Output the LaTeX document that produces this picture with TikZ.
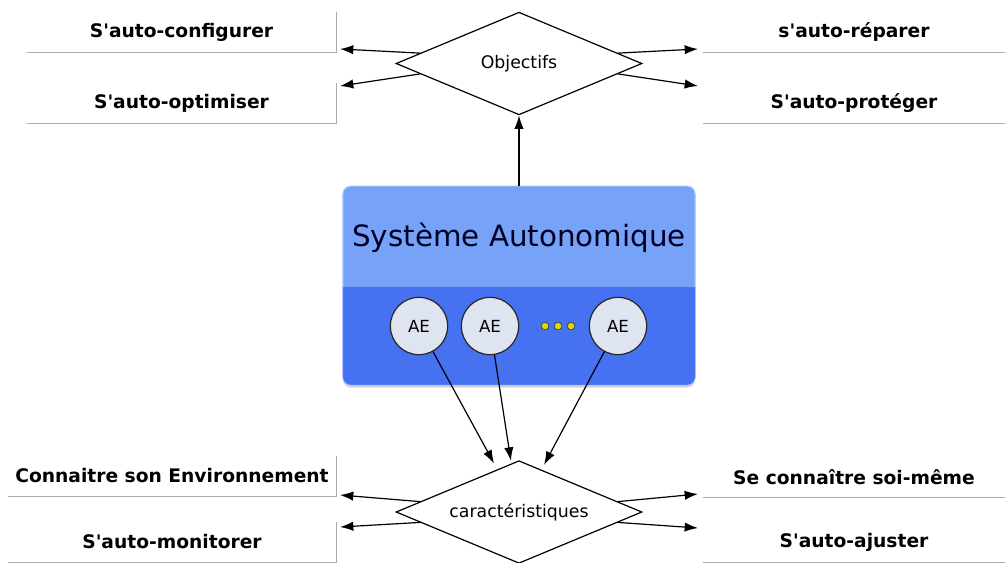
\documentclass[tikz,border=0pt]{standalone}
\usepackage{fontspec}
\setmainfont{DejaVu Sans}
\usetikzlibrary{shapes.geometric,shadows,arrows.meta}

\definecolor{uppblue}{RGB}{118,163,248}
\definecolor{lowblue}{RGB}{70,114,242}
\definecolor{aefill}{RGB}{222,228,240}
\definecolor{lblline}{RGB}{170,170,170}
\newcommand{\ap}{\textquotesingle}

\tikzset{
  lbl/.style={minimum height=30pt, inner sep=0pt, font=\fontsize{14}{16}\selectfont\bfseries},
  lblline/.style={draw=lblline, line width=0.7pt},
  choice/.style={diamond, aspect=2.4, draw, line width=0.9pt, inner sep=0pt, minimum width=184.5pt, minimum height=77pt, font=\fontsize{13}{15}\selectfont},
  ae/.style={circle, draw=black!85, line width=0.9pt, fill=aefill, minimum size=43pt, inner sep=0pt, font=\fontsize{12.5}{14}\selectfont},
  arr/.style={->,>={Latex[length=10pt,width=7pt]}, line width=0.9pt}
}

\begin{document}
\begin{tikzpicture}[x=0.75pt, y=-0.75pt]
    \useasboundingbox (0,0) rectangle (1005,562);

    % system box
    \node[draw=uppblue!60!white, fill=uppblue, rounded corners=6pt, minimum width=264pt, minimum height=149pt,
          drop shadow={shadow xshift=0pt, shadow yshift=-2pt, opacity=0.35}] (sys) at (519,285.5) {};
    \begin{scope}
      \clip (sys.west |- 0,287) rectangle (sys.south east);
      \fill[lowblue, rounded corners=6pt] (sys.north west) rectangle (sys.south east);
    \end{scope}
    \draw[uppblue!60!white, rounded corners=6pt] (sys.north west) rectangle (sys.south east);
    \node[font=\fontsize{22}{26}\selectfont, text=black!85!blue] (title) at (519,238) {Système Autonomique};

    \node[ae] (ae1) at (419,326) {AE};
    \node[ae] (ae2) at (490,326) {AE};
    \node[ae] (ae3) at (618,326) {AE};
    \foreach \x/\n in {545/d1, 558/d2, 571/d3}
      \node[rectangle, rounded corners=1.2pt, draw=black!80, line width=0.5pt, fill=yellow!75!olive, minimum size=5pt, inner sep=0pt] (\n) at (\x,326) {};

    % diamonds
    \node[choice] (obj) at (519,63.5) {Objectifs};
    \node[choice] (car) at (519,512) {caractéristiques};

    % labels
    \node[lbl, minimum width=231.75pt] (cfg) at (181.5,32) {S\ap auto-configurer};
    \node[lbl, minimum width=231.75pt] (opt) at (181.5,103.5) {S\ap auto-optimiser};
    \node[lbl, minimum width=226.5pt] (rep) at (854,32) {s\ap auto-réparer};
    \node[lbl, minimum width=226.5pt] (pro) at (854,103.5) {S\ap auto-protéger};
    \node[lbl, minimum width=246pt] (env) at (172,476) {Connaitre son Environnement};
    \node[lbl, minimum width=246pt] (mon) at (172,542) {S\ap auto-monitorer};
    \node[lbl, minimum width=226.5pt] (soi) at (854,477) {Se connaître soi-même};
    \node[lbl, minimum width=226.5pt] (aju) at (854,542) {S\ap auto-ajuster};

    \draw[lblline] (cfg.north east) -- (cfg.south east) -- (cfg.south west);
    \draw[lblline] (opt.north east) -- (opt.south east) -- (opt.south west);
    \draw[lblline] (rep.south west) -- (rep.south east);
    \draw[lblline] (pro.south west) -- (pro.south east);
    \draw[lblline] (env.north east) -- (env.south east) -- (env.south west);
    \draw[lblline] (mon.north east) -- (mon.south east) -- (mon.south west);
    \draw[lblline] (soi.south west) -- (soi.south east);
    \draw[lblline] (aju.south west) -- (aju.south east);

    % arrows
    \coordinate (tcfg) at (340,49);
    \coordinate (topt) at (340,86);
    \coordinate (trep) at (698,49);
    \coordinate (tpro) at (698,86);
    \coordinate (tenv) at (340,495);
    \coordinate (tmon) at (340,527);
    \coordinate (tsoi) at (698,494);
    \coordinate (taju) at (698,528);

    \draw[arr] (sys) to (obj.south);
    \draw[arr] (obj.174) to (tcfg);
    \draw[arr] (obj.186) to (topt);
    \draw[arr] (obj.6) to (trep);
    \draw[arr] (obj.-6) to (tpro);
    \draw[arr] (car.174) to (tenv);
    \draw[arr] (car.186) to (tmon);
    \draw[arr] (car.6) to (tsoi);
    \draw[arr] (car.-6) to (taju);

    \draw[arr, shorten >=5pt] (ae1) to (car.117);
    \draw[arr, shorten >=2pt] (ae2) to (car.99);
    \draw[arr, shorten >=4pt] (ae3) to (car.62);
  \end{tikzpicture}
\end{document}
